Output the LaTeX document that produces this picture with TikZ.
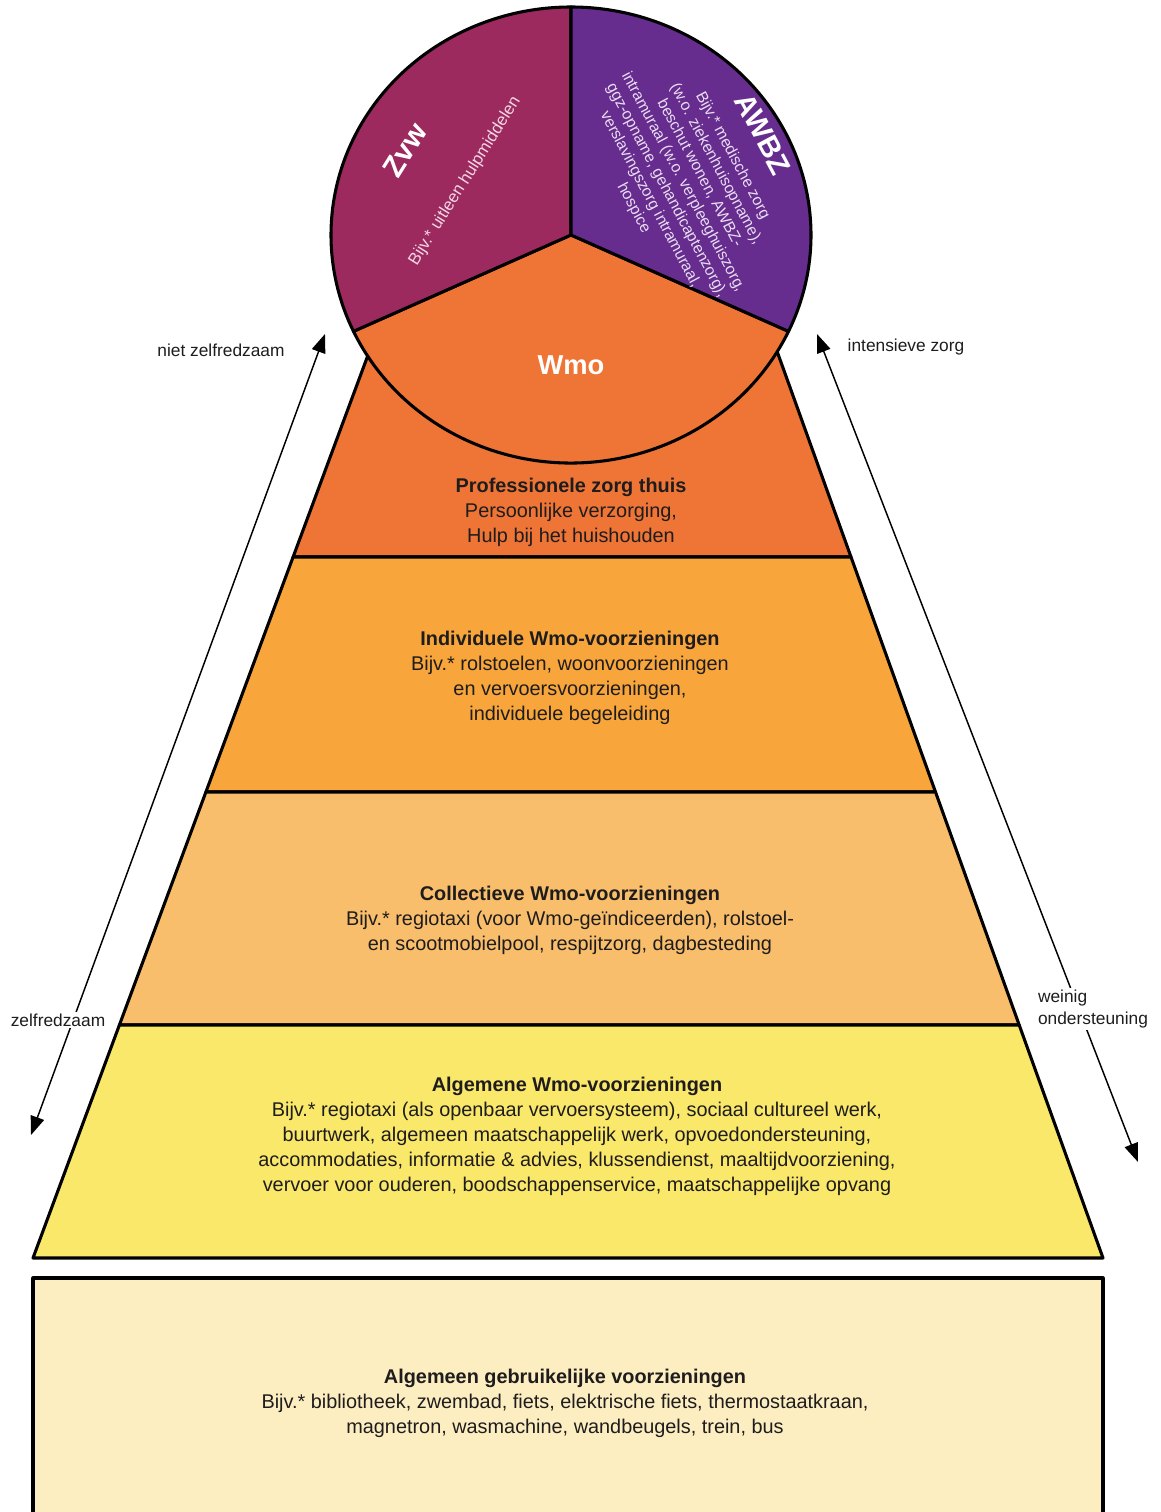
\documentclass[tikz,border=0pt]{standalone}
\usepackage{fontspec}
\setmainfont{Liberation Sans}
\usetikzlibrary{arrows.meta}
\definecolor{zvwc}{HTML}{9C2A5F}
\definecolor{awbzc}{HTML}{662C8E}
\definecolor{wmoc}{HTML}{EE7535}
\definecolor{ltwo}{HTML}{F8A63B}
\definecolor{lthree}{HTML}{F9BE6B}
\definecolor{lfour}{HTML}{FAE86A}
\definecolor{lfive}{HTML}{FDEEC2}
\definecolor{txt}{HTML}{1E1C1D}
\definecolor{zvwtxt}{HTML}{F2D6E4}
\definecolor{awbztxt}{HTML}{E9DDF2}
\begin{document}
\begin{tikzpicture}[x=0.75pt,y=-0.75pt,
  outl/.style={draw=black,line width=2.3pt,line join=round},
  layertext/.style={align=center,font=\fontsize{14.9}{18.75}\selectfont,text=txt,inner sep=0pt},
  sidelabel/.style={font=\fontsize{13}{16.5}\selectfont,text=txt,inner sep=1.5pt},
  dblarrow/.style={line width=1.1pt,{Triangle[length=14pt,width=10.5pt]}-{Triangle[length=14pt,width=10.5pt]}},
  pietitle/.style={font=\bfseries\fontsize{22}{24}\selectfont,text=white,inner sep=0pt},
  piesub/.style={align=center,font=\fontsize{12.6}{14}\selectfont,inner sep=0pt}]
\useasboundingbox (0,0) rectangle (1160,1512);

% pyramid layers
\filldraw[outl,fill=wmoc] (377.3,330) -- (293.1,557) -- (851,557) -- (769.4,330) -- cycle;
\filldraw[outl,fill=ltwo] (293.1,557) -- (205.9,792) -- (935.5,792) -- (851,557) -- cycle;
\filldraw[outl,fill=lthree] (205.9,792) -- (119.4,1025) -- (1019.2,1025) -- (935.5,792) -- cycle;
\filldraw[outl,fill=lfour] (119.4,1025) -- (33,1258) -- (1103,1258) -- (1019.2,1025) -- cycle;
\fill[lfive] (33,1278) rectangle (1103,1512);
\draw[outl] (33,1514) -- (33,1278) -- (1103,1278) -- (1103,1514);

% pie
\coordinate (C) at (571,235);
\filldraw[outl,fill=wmoc] (C) -- ++(25:240 and 228) arc[start angle=25,end angle=155,x radius=240,y radius=228] -- cycle;
\filldraw[outl,fill=zvwc] (C) -- ++(155:240 and 228) arc[start angle=155,end angle=270,x radius=240,y radius=228] -- cycle;
\filldraw[outl,fill=awbzc] (C) -- ++(270:240 and 228) arc[start angle=270,end angle=385,x radius=240,y radius=228] -- cycle;

\node[pietitle,font=\bfseries\fontsize{20.5}{22}\selectfont] (wmo) at (571,365) {Wmo};
\node[pietitle,rotate=58] (zvw) at (405,150) {Zvw};
\node[piesub,text=zvwtxt,rotate=58] (zvwsub) at (465,181) {Bijv.* uitleen hulpmiddelen};
\node[pietitle,rotate=-62] (awbz) at (763,134) {AWBZ};
\node[piesub,text=awbztxt,rotate=-62,font=\fontsize{11.8}{14}\selectfont] (awbzsub) at (683,182) {Bijv.* medische zorg\\(w.o. ziekenhuisopname),\\beschut wonen, AWBZ-\\intramuraal (w.o. verpleeghuiszorg,\\ggz-opname, gehandicaptenzorg),\\verslavingszorg intramuraal,\\hospice};

% layer texts
\node[layertext] (t1) at (571,512) {\textbf{Professionele zorg thuis}\\Persoonlijke verzorging,\\Hulp bij het huishouden};
\node[layertext] (t2) at (570,677.5) {\textbf{Individuele Wmo-voorzieningen}\\Bijv.* rolstoelen, woonvoorzieningen\\en vervoersvoorzieningen,\\individuele begeleiding};
\node[layertext] (t3) at (570,920) {\textbf{Collectieve Wmo-voorzieningen}\\Bijv.* regiotaxi (voor Wmo-geïndiceerden), rolstoel-\\en scootmobielpool, respijtzorg, dagbesteding};
\node[layertext] (t4) at (577,1136) {\textbf{Algemene Wmo-voorzieningen}\\Bijv.* regiotaxi (als openbaar vervoersysteem), sociaal cultureel werk,\\buurtwerk, algemeen maatschappelijk werk, opvoedondersteuning,\\accommodaties, informatie \& advies, klussendienst, maaltijdvoorziening,\\vervoer voor ouderen, boodschappenservice, maatschappelijke opvang};
\node[layertext] (t5) at (565,1403) {\textbf{Algemeen gebruikelijke voorzieningen}\\Bijv.* bibliotheek, zwembad, fiets, elektrische fiets, thermostaatkraan,\\magnetron, wasmachine, wandbeugels, trein, bus};

% side arrows
\coordinate (lt) at (325,334);
\coordinate (lb) at (31,1135);
\coordinate (rt) at (817,334);
\coordinate (rb) at (1138,1162);
\draw[dblarrow] (lt) -- (lb);
\draw[dblarrow] (rt) -- (rb);
\node[sidelabel] (nz) at (221,350) {niet zelfredzaam};
\node[sidelabel] (iz) at (906,347) {intensieve zorg};
\node[sidelabel,fill=white] (zf) at (58,1020) {zelfredzaam};
\node[sidelabel,fill=white,align=left] (wo) at (1093,1009) {weinig\\ondersteuning};
\end{tikzpicture}
\end{document}
